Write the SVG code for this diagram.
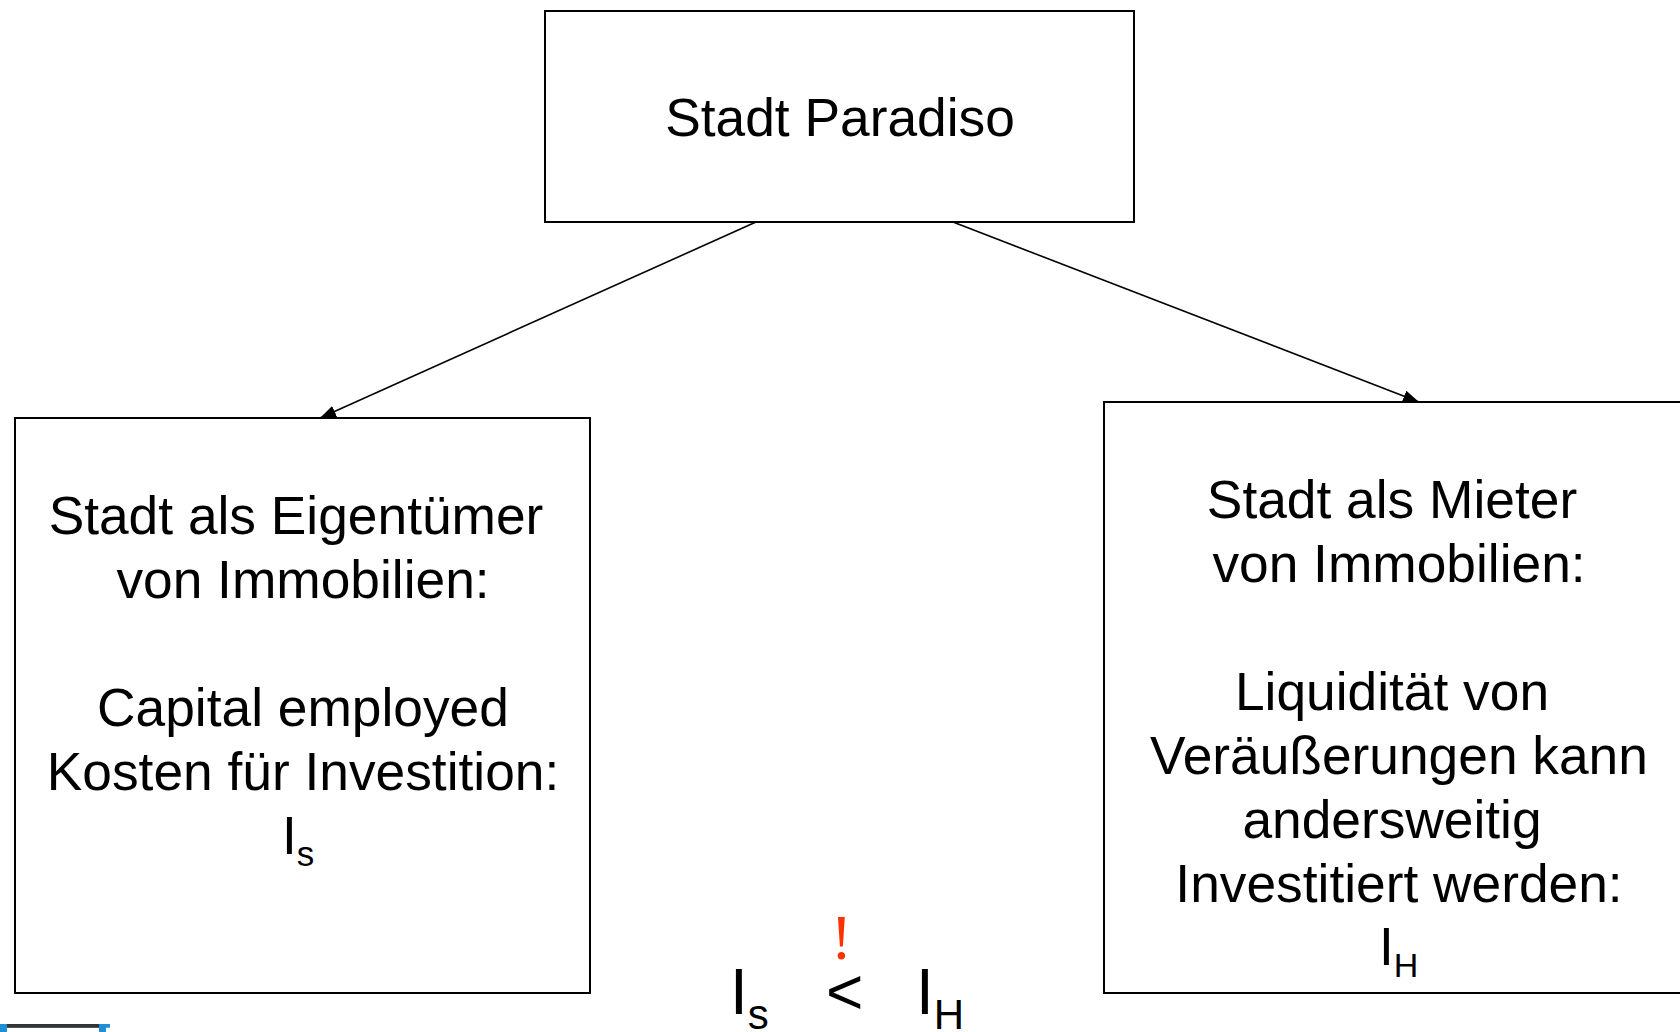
<svg xmlns="http://www.w3.org/2000/svg" width="1680" height="1032" viewBox="0 0 1680 1032">
<style>
.box{fill:#fff;stroke:#000;stroke-width:2}
.t{font-family:"Liberation Sans",Arial,sans-serif;font-size:53.3px;fill:#000;text-anchor:middle}
.ts{font-family:"Liberation Sans",Arial,sans-serif;font-size:53.3px;fill:#000}
.big{font-family:"Liberation Sans",Arial,sans-serif;font-size:64px;fill:#000}
.conn{stroke:#000;stroke-width:1.6;fill:none}
</style>
<defs>
<marker id="ah" markerUnits="userSpaceOnUse" markerWidth="18" markerHeight="14" refX="16" refY="6" orient="auto">
<path d="M0,0 L16,6 L0,12 Z" fill="#000"/>
</marker>
</defs>
<rect width="1680" height="1032" fill="#fff"/>
<g id="connectors">
<line class="conn" x1="756" y1="222" x2="320" y2="418" marker-end="url(#ah)"/>
<line class="conn" x1="953" y1="222" x2="1419" y2="402" marker-end="url(#ah)"/>
</g>
<g id="node-top">
<rect class="box" x="545" y="11" width="589" height="211"/>
<text class="t" x="840" y="136">Stadt Paradiso</text>
</g>
<g id="node-left">
<rect class="box" x="15" y="418" width="575" height="575"/>
<text class="t" x="296" y="534">Stadt als Eigentümer</text>
<text class="t" x="303" y="598">von Immobilien:</text>
<text class="t" x="303" y="726">Capital employed</text>
<text class="t" x="303" y="790">Kosten für Investition:</text>
<text class="ts" x="282" y="854">I<tspan font-size="35" dy="12">s</tspan></text>
</g>
<g id="node-right">
<rect class="box" x="1104" y="402" width="600" height="591"/>
<text class="t" x="1392" y="517.5">Stadt als Mieter</text>
<text class="t" x="1399" y="581.5">von Immobilien:</text>
<text class="t" x="1392" y="709.5">Liquidität von</text>
<text class="t" x="1399" y="773.5">Veräußerungen kann</text>
<text class="t" x="1392" y="837.5">andersweitig</text>
<text class="t" x="1399" y="901.5">Investitiert werden:</text>
<text class="ts" x="1379" y="964.5">I<tspan font-size="34" dy="12">H</tspan></text>
</g>
<g id="formula">
<text x="841.5" y="959" font-family="'Liberation Serif','Times New Roman',serif" font-size="64" fill="#FF3300" text-anchor="middle">!</text>
<text class="big" x="730" y="1014">I<tspan font-size="42" dy="15">s</tspan></text>
<text class="big" x="826" y="1014">&lt;</text>
<text class="big" x="916" y="1014">I<tspan font-size="42" dy="15">H</tspan></text>
</g>
<g id="corner-fragment">
<rect x="0" y="1024" width="110" height="8" fill="#1E8FD6"/>
<rect x="7" y="1027.7" width="92" height="5" fill="#fff"/>
<rect x="106" y="1027.7" width="4" height="5" fill="#fff"/>
<rect x="7" y="1024" width="92" height="3.7" fill="#333"/>
</g>
</svg>
